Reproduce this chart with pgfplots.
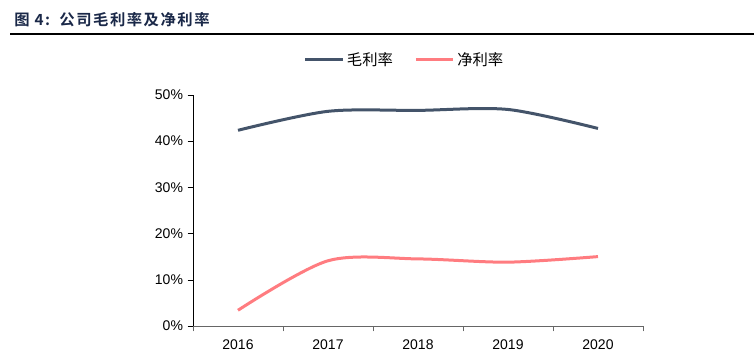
\documentclass[border=0pt]{standalone}
\usepackage{pgfplots}
\pgfplotsset{compat=1.18}
\usepackage{fontspec}
\setmainfont{Liberation Sans}
\newfontfamily\cjk{Noto Sans CJK SC}
\newfontfamily\cjkb{Noto Sans CJK SC Bold}[LetterSpace=10]
\definecolor{gm}{HTML}{44546A}
\definecolor{nm}{HTML}{FF7C80}
\definecolor{tt}{HTML}{1A2848}
\begin{document}
\begin{tikzpicture}
\begin{scope}[x=0.75pt,y=0.75pt]
\path[use as bounding box] (0,0) rectangle (754,352);
\node[anchor=base west,inner sep=0pt,text=tt,font=\cjkb\fontsize{11.5pt}{13pt}\selectfont] at (14,352-26) {图 4:\, 公司毛利率及净利率};
\draw[line width=1.5pt,black] (10,352-33.5) -- (754,352-33.5);
\end{scope}
\begin{axis}[
  at={(144.75pt,19.5pt)}, anchor=south west,
  scale only axis, width=337.5pt, height=173.5pt,
  xmin=-0.5, xmax=4.5, ymin=0, ymax=50,
  axis lines=left, axis line style={-}, 
  x axis line style={draw=gray!80!black},
  y axis line style={draw=black},
  xtick={0,1,2,3,4}, xticklabels={2016,2017,2018,2019,2020},
  major x tick style={draw=none},
  minor xtick={-0.5,0.5,1.5,2.5,3.5,4.5},
  minor x tick style={draw=gray!80!black},
  minor tick length=4pt,
  ytick={0,10,20,30,40,50},
  yticklabels={0\%,10\%,20\%,30\%,40\%,50\%},
  major tick length=4pt, tick align=outside,
  ytick style={draw=black},
  tick label style={font=\fontsize{10.5pt}{12pt}\selectfont},
  /pgf/number format/assume math mode=true,
  xticklabel style={yshift=-3pt},
  clip=false,
  legend columns=2,
  legend style={draw=none, fill=none, at={(0.4711,1.150)}, anchor=center, font=\cjk\fontsize{11.5pt}{13pt}\selectfont, /tikz/every even column/.append style={column sep=14pt}},
  legend cell align=left,
  legend image code/.code={\draw[#1,line width=2.25pt] (0pt,0pt) -- (28pt,0pt);},
]
\addplot[gm, line width=2.25pt, smooth, tension=0.5] coordinates {(0,42.3) (1,46.4) (2,46.6) (3,46.8) (4,42.7)};
\addlegendentry{毛利率}
\addplot[nm, line width=2.25pt, smooth, tension=0.5] coordinates {(0,3.4) (1,14.1) (2,14.5) (3,13.8) (4,15.0)};
\addlegendentry{净利率}
\end{axis}
\end{tikzpicture}
\end{document}
